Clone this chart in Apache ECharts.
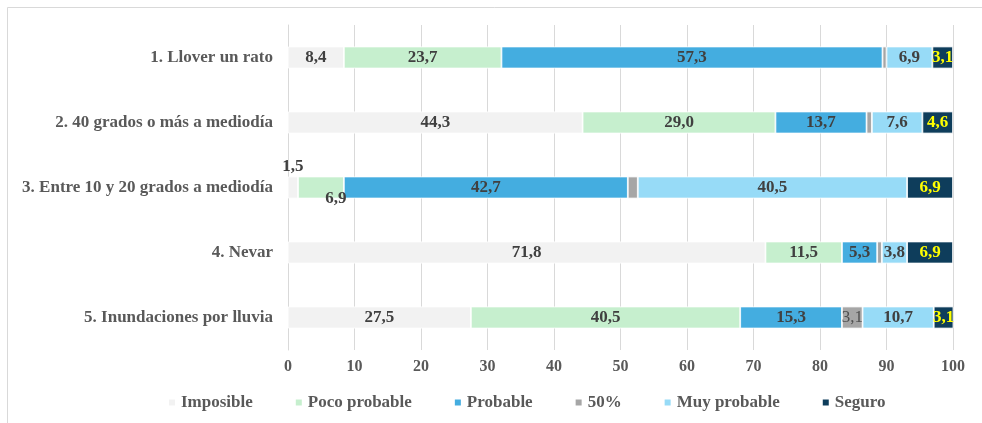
<!DOCTYPE html>
<html>
<head>
<meta charset="utf-8">
<script src="https://cdn.jsdelivr.net/npm/echarts@6/dist/echarts.min.js"></script>
<style>
  html, body { margin: 0; padding: 0; background: #ffffff; }
  #chart { width: 982px; height: 423px; }
</style>
</head>
<body>
<div id="chart"></div>
<script>
// Survey items (top to bottom)
const categories = [
  '1. Llover un rato',
  '2. 40 grados o más a mediodía',
  '3. Entre 10 y 20 grados a mediodía',
  '4. Nevar',
  '5. Inundaciones por lluvia'
];

// Answer shares (%) per item
const imposible    = [8.4, 44.3, 1.5, 71.8, 27.5];
const pocoProbable = [23.7, 29.0, 6.9, 11.5, 40.5];
const probable     = [57.3, 13.7, 42.7, 5.3, 15.3];
const cincuenta    = [0.6, 0.8, 1.5, 0.7, 3.1];
const muyProbable  = [6.9, 7.6, 40.5, 3.8, 10.7];
const seguro       = [3.1, 4.6, 6.9, 6.9, 3.1];

const xTicks = [0, 10, 20, 30, 40, 50, 60, 70, 80, 90, 100];

const FONT = '"Liberation Serif", "DejaVu Serif", serif';

const fmt = v => v.toFixed(1).replace('.', ',');

const seriesDefs = [
  { name: 'Imposible',     data: imposible,    color: '#F2F2F2', labelColor: '#404040' },
  { name: 'Poco probable', data: pocoProbable, color: '#C6EFCE', labelColor: '#404040' },
  { name: 'Probable',      data: probable,     color: '#44ADE0', labelColor: '#404040' },
  { name: '50%',           data: cincuenta,    color: '#A6A6A6', labelColor: '#505050', weight: 'normal' },
  { name: 'Muy probable',  data: muyProbable,  color: '#97DBF7', labelColor: '#404040' },
  { name: 'Seguro',        data: seguro,       color: '#0E3D5B', labelColor: '#FFFF00' }
];

// Segments too narrow for an inside label get placed around the bar
const labelOverrides = {
  'Imposible|2':     { position: 'top', distance: 1 },
  'Poco probable|2': { position: 'inside', offset: [15, 11] }
};

const series = seriesDefs.map(def => ({
  name: def.name,
  type: 'bar',
  stack: 'total',
  barWidth: 22,
  itemStyle: { color: def.color, borderColor: '#ffffff', borderWidth: 0.8 },
  label: {
    show: true,
    position: 'inside',
    fontFamily: FONT,
    fontSize: 17,
    fontWeight: def.weight || 'bold',
    color: def.labelColor,
    formatter: p => fmt(p.value)
  },
  emphasis: { disabled: true },
  data: def.data.map((v, i) => {
    const item = { value: v };
    const ov = labelOverrides[def.name + '|' + i];
    if (ov) {
      item.label = ov;
    } else if (v < 2) {
      item.label = { show: false };
    }
    return item;
  })
}));

const chart = echarts.init(document.getElementById('chart'), null, { renderer: 'canvas' });

chart.setOption({
  animation: false,
  backgroundColor: '#ffffff',
  grid: { left: 288, right: 29, top: 25, bottom: 73, containLabel: false },
  legend: {
    left: 167,
    top: 394,
    padding: 0,
    itemWidth: 8,
    itemHeight: 8,
    itemGap: 41,
    icon: 'rect',
    textStyle: { fontFamily: FONT, fontSize: 17, fontWeight: 'bold', color: '#595959' },
    data: seriesDefs.map(d => d.name)
  },
  xAxis: {
    type: 'value',
    min: xTicks[0],
    max: xTicks[xTicks.length - 1],
    interval: xTicks[1] - xTicks[0],
    axisLine: { show: false },
    axisTick: { show: false },
    splitLine: { show: true, lineStyle: { color: '#D9D9D9', width: 1 } },
    axisLabel: {
      margin: 9,
      fontFamily: FONT,
      fontSize: 16,
      fontWeight: 'bold',
      color: '#595959'
    }
  },
  yAxis: {
    type: 'category',
    inverse: true,
    data: categories,
    axisLine: { show: true, lineStyle: { color: '#D9D9D9', width: 1 } },
    axisTick: { show: false },
    axisLabel: {
      margin: 15,
      fontFamily: FONT,
      fontSize: 17,
      fontWeight: 'bold',
      color: '#595959'
    }
  },
  graphic: [
    { type: 'line', shape: { x1: 7.5, y1: 7.5, x2: 982, y2: 7.5 }, style: { stroke: '#D9D9D9', lineWidth: 1 }, silent: true },
    { type: 'line', shape: { x1: 7.5, y1: 7.5, x2: 7.5, y2: 423 }, style: { stroke: '#D9D9D9', lineWidth: 1 }, silent: true }
  ],
  series: series
});
</script>
</body>
</html>
